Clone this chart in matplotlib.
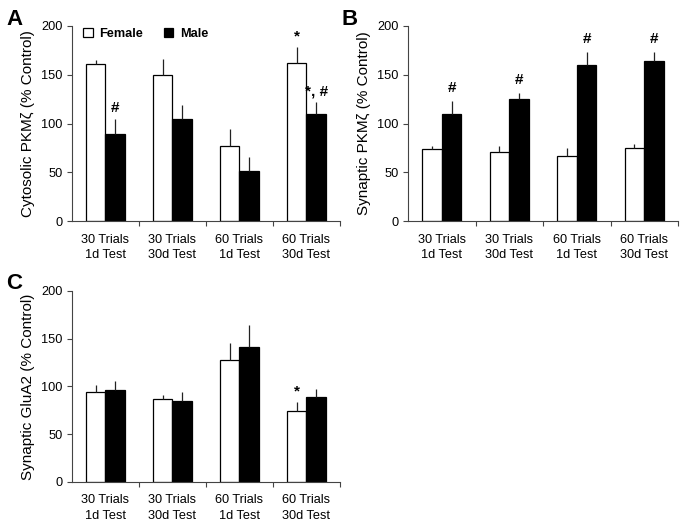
import numpy as np
import matplotlib.pyplot as plt

plt.rcParams['font.family'] = ['Liberation Sans', 'DejaVu Sans']

categories = ['30 Trials\n1d Test', '30 Trials\n30d Test', '60 Trials\n1d Test', '60 Trials\n30d Test']

# panel A - cytosolic PKMzeta
a_female = [161, 150, 77, 162]
a_female_err = [4, 16, 17, 16]
a_male = [89, 105, 51, 110]
a_male_err = [16, 14, 15, 12]
a_marks = [(0, 'm', '#'), (3, 'f', '*'), (3, 'm', '*, #')]

# panel B - synaptic PKMzeta
b_female = [74, 71, 67, 75]
b_female_err = [3, 6, 8, 4]
b_male = [110, 125, 160, 164]
b_male_err = [13, 6, 13, 9]
b_marks = [(0, 'm', '#'), (1, 'm', '#'), (2, 'm', '#'), (3, 'm', '#')]

# panel C - synaptic GluA2
c_female = [94, 87, 128, 74]
c_female_err = [7, 4, 17, 10]
c_male = [96, 85, 141, 89]
c_male_err = [10, 9, 23, 8]
c_marks = [(3, 'f', '*')]

fig = plt.figure(figsize=(6.83, 5.27), dpi=100)
axA = fig.add_axes([0.1054, 0.5806, 0.3924, 0.3701])
axB = fig.add_axes([0.5974, 0.5806, 0.3953, 0.3701])
axC = fig.add_axes([0.1054, 0.0854, 0.3924, 0.3630])

w = 0.29
x = np.arange(len(categories))


def panel(ax, fem, fem_err, mal, mal_err, marks, ylabel, letter, mark_off):
    ax.bar(x - w / 2, fem, w, color='white', edgecolor='black', linewidth=0.9,
           yerr=[np.zeros(4), fem_err], error_kw=dict(ecolor='#222222', elinewidth=0.9, capsize=0),
           label='Female', zorder=2)
    ax.bar(x + w / 2, mal, w, color='black', edgecolor='black', linewidth=0.9,
           yerr=[np.zeros(4), mal_err], error_kw=dict(ecolor='#222222', elinewidth=0.9, capsize=0),
           label='Male', zorder=2)
    for i, who, txt in marks:
        if who == 'f':
            xx, top = x[i] - w / 2, fem[i] + fem_err[i]
        else:
            xx, top = x[i] + w / 2, mal[i] + mal_err[i]
        ax.text(xx, top + mark_off, txt, ha='center', va='bottom',
                fontsize=11, fontweight='bold')
    ax.set_xlim(-0.5, 3.5)
    ax.set_ylim(0, 200)
    ax.set_yticks([0, 50, 100, 150, 200])
    ax.set_xticks(x)
    ax.set_xticklabels(categories, fontsize=9.2, linespacing=1.35)
    ax.set_xticks([0.5, 1.5, 2.5, 3.5], minor=True)
    ax.tick_params(axis='x', which='major', length=0, pad=9)
    ax.tick_params(axis='x', which='minor', length=3.6, width=0.8, color='#444444')
    ax.tick_params(axis='y', length=3.6, width=0.8, color='#444444', labelsize=9.2, pad=3)
    for s in ['top', 'right']:
        ax.spines[s].set_visible(False)
    for s in ['left', 'bottom']:
        ax.spines[s].set_color('#444444')
        ax.spines[s].set_linewidth(0.8)
    ax.set_ylabel(ylabel, fontsize=11, labelpad=5)
    ax.text(-0.245, 1.035, letter, transform=ax.transAxes, fontsize=16,
            fontweight='bold', ha='left', va='center')


panel(axA, a_female, a_female_err, a_male, a_male_err, a_marks,
      'Cytosolic PKMζ (% Control)', 'A', 4)
panel(axB, b_female, b_female_err, b_male, b_male_err, b_marks,
      'Synaptic PKMζ (% Control)', 'B', 6)
panel(axC, c_female, c_female_err, c_male, c_male_err, c_marks,
      'Synaptic GluA2 (% Control)', 'C', 3)

leg = axA.legend(loc='upper left', bbox_to_anchor=(0.0, 1.05), ncol=2, frameon=False,
                 handlelength=0.75, handleheight=0.75, handletextpad=0.5,
                 columnspacing=1.6, prop={'size': 9.2, 'weight': 'bold'})

fig.savefig('out.png', dpi=100)
